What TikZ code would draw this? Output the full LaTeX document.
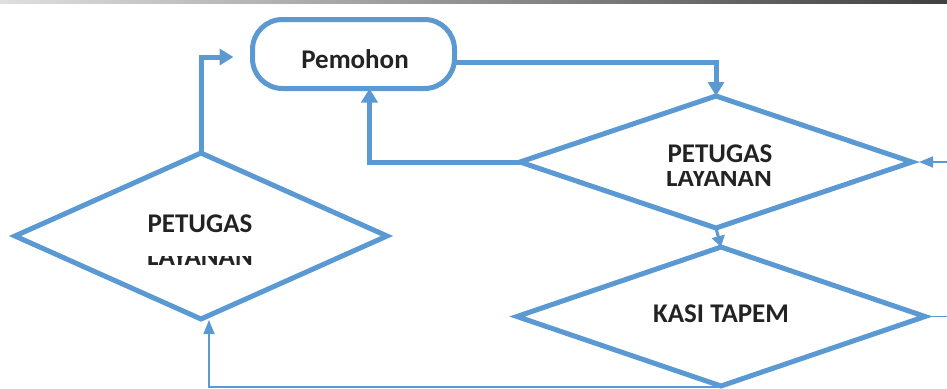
\documentclass[tikz,border=0pt]{standalone}
\usepackage{fontspec}
\setmainfont{Carlito}
\usetikzlibrary{shapes.geometric,arrows.meta,calc}
\definecolor{flowblue}{RGB}{91,153,211}
\definecolor{inkgray}{RGB}{35,35,35}
\begin{document}
\begin{tikzpicture}[x=1pt,y=-1pt,
  box/.style={draw=flowblue,line width=5pt,fill=white,inner sep=0pt,outer sep=0pt},
  decision/.style={box,diamond},
  lbl/.style={anchor=base,inner sep=0pt,text=inkgray,font=\fontsize{27}{30}\selectfont\bfseries},
  heavy/.style={draw=flowblue,line width=5pt,-{Triangle[width=16pt,length=14pt]}},
  medium/.style={draw=flowblue,line width=3pt,-{Triangle[width=13pt,length=11pt]}},
  light/.style={draw=flowblue,line width=1.6pt,-{Triangle[width=11pt,length=14pt]}}]
\useasboundingbox (0,0) rectangle (947,388);
\fill[white] (0,0) rectangle (947,388);
% thin rule along the top edge
\shade[left color=gray!25,right color=black!75] (0,0) rectangle (947,3);

% shapes
\node[box,rounded corners=30pt,minimum width=202pt,minimum height=69pt] (pem) at (353.5,54) {};
\node[decision,minimum width=392pt,minimum height=132pt] (d1) at (716,162) {};
\node[decision,minimum width=408pt,minimum height=139pt] (d2) at (721,316.5) {};
\node[decision,minimum width=372pt,minimum height=166pt] (d3) at (201,236) {};

% labels
\node[lbl] (pemtxt) at (355,68) {Pemohon};
\node[lbl] (d1a) at (720,162) {PETUGAS};
\begin{scope}
  \clip (640,171) rectangle (800,196);
  \node[lbl] (d1b) at (719,186) {LAYANAN};
\end{scope}
\node[lbl] (d2a) at (721,322) {KASI TAPEM};
\node[lbl] (d3a) at (200,232) {PETUGAS};
\begin{scope}
  \clip (120,256) rectangle (280,275);
  \node[lbl] (d3b) at (200,265) {LAYANAN};
\end{scope}

% connectors
\draw[heavy] ($(pem.east)+(0,8)$) -| (d1.north);
\draw[heavy] (d1.west) -| ($(pem.south)+(16,0)$);
\draw[heavy] (d3.north) |- ($(pem.west)+(-19,3)$);
\draw[medium] (d1.south) -- (d2.north);
\draw[light] (d2.east) -- ++(40,0) |- ($(d1.east)+(7,0)$);
\draw[light] (d2.south) -- ++(0,1) -| ($(d3.south)+(8,1)$);
\end{tikzpicture}
\end{document}
